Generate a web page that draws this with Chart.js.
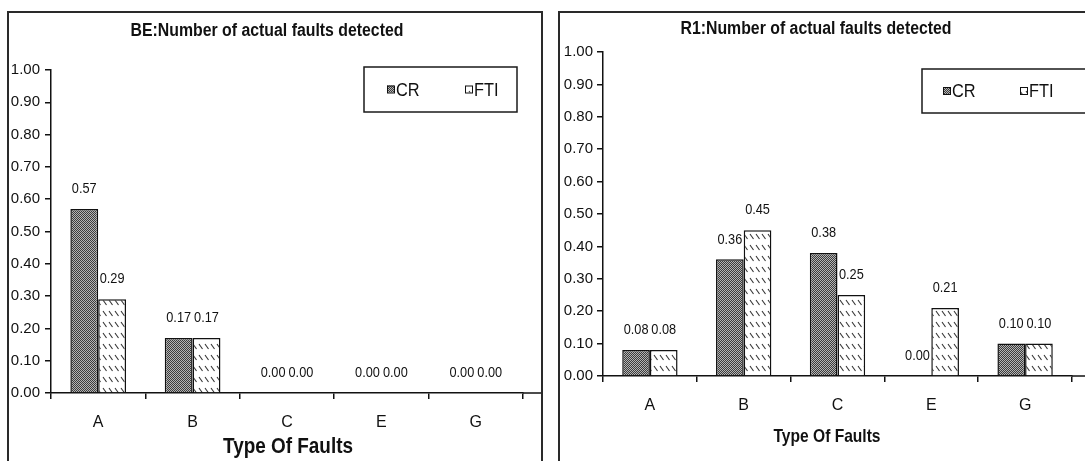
<!DOCTYPE html>
<html>
<head>
<meta charset="utf-8">
<script src="https://cdn.jsdelivr.net/npm/chart.js@4.4.1/dist/chart.umd.min.js"></script>
<style>
  html, body { margin: 0; padding: 0; background: #fff; overflow: hidden; width: 1085px; height: 461px; }
  .wrap { position: absolute; top: 0; height: 461px; }
  .panel { position: absolute; border: 2px solid #2a2a2a; box-sizing: border-box; pointer-events: none; }
</style>
</head>
<body>
<div class="wrap" style="left:0;width:542px"><canvas id="beChart"></canvas></div>
<div class="wrap" style="left:545px;width:540px"><canvas id="r1Chart"></canvas></div>
<div class="panel" style="left:7px;top:11px;width:536px;height:470px"></div>
<div class="panel" style="left:558px;top:11px;width:540px;height:470px"></div>
<script>
// Fault categories and detection rates for the two programs
const faultTypes = ['A', 'B', 'C', 'E', 'G'];
const beCR  = [0.57, 0.17, 0.00, 0.00, 0.00];
const beFTI = [0.29, 0.17, 0.00, 0.00, 0.00];
const r1CR  = [0.08, 0.36, 0.38, 0.00, 0.10];
const r1FTI = [0.08, 0.45, 0.25, 0.21, 0.10];
const seriesNames = ['CR', 'FTI'];
const beTitle = 'BE:Number of actual faults detected';
const r1Title = 'R1:Number of actual faults detected';
const xAxisTitle = 'Type Of Faults';

const SANS = "'Liberation Sans', Arial, sans-serif";

// Fill patterns: fine dark stipple for CR, short back-slash hatching for FTI
function stipplePattern() {
  const c = document.createElement('canvas');
  c.width = 2; c.height = 2;
  const g = c.getContext('2d');
  g.fillStyle = '#b4b4b4'; g.fillRect(0, 0, 2, 2);
  g.fillStyle = '#3c3c3c'; g.fillRect(0, 0, 1, 1); g.fillRect(1, 1, 1, 1);
  return g.createPattern(c, 'repeat');
}
function hatchPattern() {
  const c = document.createElement('canvas');
  c.width = 6; c.height = 11;
  const g = c.getContext('2d');
  g.fillStyle = '#fff'; g.fillRect(0, 0, 6, 11);
  g.strokeStyle = '#333'; g.lineWidth = 1.1;
  g.beginPath(); g.moveTo(1, 3); g.lineTo(4.5, 8); g.stroke();
  return g.createPattern(c, 'repeat');
}
const crFill = stipplePattern();
const ftiFill = hatchPattern();

// Horizontally condensed text, like the narrow face used in the charts
function condensedText(ctx, text, x, y, font, sx) {
  ctx.save();
  ctx.font = font;
  ctx.translate(x, y);
  ctx.scale(sx, 1);
  ctx.fillText(text, 0, 0);
  ctx.restore();
}

// Value labels above each bar
const valueLabels = {
  id: 'valueLabels',
  afterDatasetsDraw(chart, args, opts) {
    const ctx = chart.ctx;
    ctx.save();
    ctx.fillStyle = '#111';
    ctx.textAlign = 'center';
    ctx.textBaseline = 'middle';
    chart.data.datasets.forEach((ds, i) => {
      chart.getDatasetMeta(i).data.forEach((bar, j) => {
        condensedText(ctx, ds.data[j].toFixed(2), bar.x, bar.y - opts.offset, opts.font, opts.sx);
      });
    });
    ctx.restore();
  }
};

// Chart title, axis title, boxed legend and the x-axis run-out to the panel edge
const decorations = {
  id: 'decorations',
  afterDraw(chart, args, o) {
    const ctx = chart.ctx;
    const area = chart.chartArea;
    ctx.save();
    // axis line continues past the last category
    const y0 = chart.scales.y.getPixelForValue(0);
    ctx.strokeStyle = '#111'; ctx.lineWidth = 1.5;
    ctx.beginPath(); ctx.moveTo(area.right, y0); ctx.lineTo(o.axisEnd, y0); ctx.stroke();

    ctx.fillStyle = '#111';
    ctx.textAlign = 'center'; ctx.textBaseline = 'middle';
    condensedText(ctx, o.title, o.titleX, o.titleY, o.titleFont, o.titleSx);
    condensedText(ctx, o.xTitle, o.xTitleX, o.xTitleY, o.xTitleFont, o.xTitleSx);

    // legend box
    const L = o.legend;
    ctx.lineWidth = 1.5; ctx.strokeStyle = '#1a1a1a';
    ctx.strokeRect(L.x, L.y, L.w, L.h);
    ctx.textAlign = 'left';
    chart.data.datasets.forEach((ds, i) => {
      const mx = L.items[i];
      const cy = L.y + L.h / 2;
      ctx.fillStyle = ds.backgroundColor;
      ctx.fillRect(mx, cy - 4, 7, 7);
      ctx.lineWidth = 1; ctx.strokeStyle = '#111';
      ctx.strokeRect(mx + 0.5, cy - 3.5, 7, 7);
      ctx.fillStyle = '#111';
      condensedText(ctx, ds.label, mx + 9, cy + 1, L.font, L.sx);
    });
    ctx.restore();
  }
};

function buildChart(id, cr, fti, geo) {
  return new Chart(document.getElementById(id), {
    type: 'bar',
    data: {
      labels: faultTypes,
      datasets: [
        { label: seriesNames[0], data: cr, backgroundColor: crFill, borderColor: '#111', borderWidth: 1.5 },
        { label: seriesNames[1], data: fti, backgroundColor: ftiFill, borderColor: '#111', borderWidth: 1.5 }
      ]
    },
    options: {
      responsive: true,
      maintainAspectRatio: false,
      animation: false,
      events: [],
      datasets: { bar: { categoryPercentage: 0.59, barPercentage: 1.0 } },
      layout: { padding: { left: 0, top: geo.top, right: geo.right, bottom: geo.bottom } },
      scales: {
        x: {
          offset: true,
          grid: { drawOnChartArea: false, drawTicks: true, tickLength: 6, color: '#111', lineWidth: 1.5 },
          border: { display: true, color: '#111', width: 1.5 },
          ticks: { color: '#111', padding: geo.xPad, font: { family: SANS, size: 16 } },
          afterFit(s) { s.height = geo.xHeight; }
        },
        y: {
          min: 0, max: 1,
          grid: { drawOnChartArea: false, drawTicks: true, tickLength: 6, color: '#111', lineWidth: 1.5 },
          border: { display: true, color: '#111', width: 1.5 },
          ticks: {
            stepSize: 0.1, color: '#111', padding: geo.yPad,
            font: { family: SANS, size: 15 },
            callback: v => Number(v).toFixed(2)
          },
          afterFit(s) { s.width = geo.yWidth; }
        }
      },
      plugins: {
        legend: { display: false },
        tooltip: { enabled: false },
        valueLabels: { font: '15px ' + SANS, sx: 0.85, offset: 20 },
        decorations: geo.deco
      }
    },
    plugins: [valueLabels, decorations]
  });
}

buildChart('beChart', beCR, beFTI, {
  top: 70, right: 19, bottom: 18, xHeight: 50, yWidth: 51, yPad: 5, xPad: 14,
  deco: {
    axisEnd: 541,
    title: beTitle, titleX: 267, titleY: 31, titleFont: 'bold 18px ' + SANS, titleSx: 0.88,
    xTitle: xAxisTitle, xTitleX: 288, xTitleY: 447, xTitleFont: 'bold 22px ' + SANS, xTitleSx: 0.86,
    legend: { x: 364, y: 67, w: 153, h: 45, font: '19px ' + SANS, sx: 0.86, items: [387, 465] }
  }
});

buildChart('r1Chart', r1CR, r1FTI, {
  top: 52, right: 13, bottom: 35, xHeight: 50, yWidth: 58, yPad: 4, xPad: 14,
  deco: {
    axisEnd: 540,
    title: r1Title, titleX: 271, titleY: 29, titleFont: 'bold 18px ' + SANS, titleSx: 0.88,
    xTitle: xAxisTitle, xTitleX: 282, xTitleY: 437, xTitleFont: 'bold 19px ' + SANS, xTitleSx: 0.82,
    legend: { x: 377, y: 69, w: 180, h: 44, font: '19px ' + SANS, sx: 0.86, items: [398, 475] }
  }
});
</script>
</body>
</html>
